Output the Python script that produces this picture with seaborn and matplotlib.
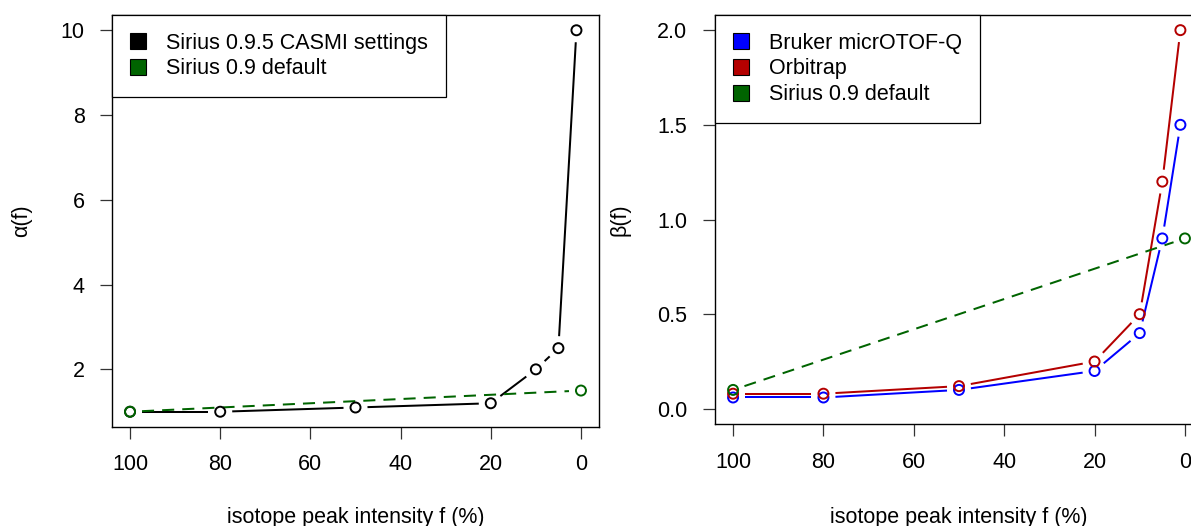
import numpy as np
import matplotlib
matplotlib.use("Agg")
import matplotlib.pyplot as plt
from matplotlib.patches import Patch
import seaborn as sns

# isotope peak intensity f (%)
freq = [100, 80, 50, 20, 10, 5, 1]
default_freq = [100, 0]

# alpha(f)
alpha_casmi = [1.0, 1.0, 1.1, 1.2, 2.0, 2.5, 10.0]
alpha_default = [1.0, 1.5]

# beta(f)
beta_bruker = [0.06, 0.06, 0.10, 0.20, 0.40, 0.90, 1.50]
beta_orbitrap = [0.08, 0.08, 0.12, 0.25, 0.50, 1.20, 2.00]
beta_default = [0.10, 0.90]

BLACK = "#000000"
GREEN = "#006400"
BLUE = "#0000FF"
RED = "#B40000"
FS = 15.5

sns.set_style("ticks")
plt.rcParams["font.family"] = ["Liberation Sans", "DejaVu Sans"]
plt.rcParams["font.size"] = FS
plt.rcParams["text.color"] = "black"
plt.rcParams["axes.labelcolor"] = "black"
plt.rcParams["xtick.labelcolor"] = "black"
plt.rcParams["ytick.labelcolor"] = "black"

W, H = 1191, 526
fig = plt.figure(figsize=(W / 100, H / 100), dpi=100)


def box(l, r, b, t):
    return [l / W, 1 - b / H, (r - l) / W, (b - t) / H]


ax1 = fig.add_axes(box(112, 599, 427, 15))
ax2 = fig.add_axes(box(715, 1203, 424, 15))

ax1.set_xlim(104, -4)
ax1.set_ylim(0.64, 10.36)
ax2.set_xlim(104, -4)
ax2.set_ylim(-0.08, 2.08)


def gapped(ax, xs, ys, color, gap=12, dashed=False):
    """R type='b' style: segments stop short of the points."""
    pts = ax.transData.transform(np.column_stack([xs, ys]))
    inv = ax.transData.inverted()
    for p0, p1 in zip(pts[:-1], pts[1:]):
        d = p1 - p0
        L = np.hypot(*d)
        if L <= 2 * gap:
            continue
        u = d / L
        a = inv.transform(p0 + u * gap)
        b = inv.transform(p1 - u * gap)
        line, = ax.plot([a[0], b[0]], [a[1], b[1]], color=color, lw=1.45,
                        solid_capstyle="butt")
        if dashed:
            line.set_dashes((6, 4))


def points(ax, xs, ys, color):
    sns.scatterplot(x=xs, y=ys, ax=ax, marker="o", s=52, facecolor="none",
                    edgecolor=color, linewidth=1.4, zorder=3)


gapped(ax1, freq, alpha_casmi, BLACK)
points(ax1, freq, alpha_casmi, BLACK)
gapped(ax1, default_freq, alpha_default, GREEN, dashed=True)
points(ax1, default_freq, alpha_default, GREEN)

gapped(ax2, freq, beta_bruker, BLUE)
points(ax2, freq, beta_bruker, BLUE)
gapped(ax2, freq, beta_orbitrap, RED)
points(ax2, freq, beta_orbitrap, RED)
gapped(ax2, default_freq, beta_default, GREEN, dashed=True)
points(ax2, default_freq, beta_default, GREEN)

ax1.set_xticks([100, 80, 60, 40, 20, 0])
ax1.set_yticks([2, 4, 6, 8, 10])
ax2.set_xticks([100, 80, 60, 40, 20, 0])
ax2.set_yticks([0.0, 0.5, 1.0, 1.5, 2.0])
ax2.set_yticklabels(["0.0", "0.5", "1.0", "1.5", "2.0"])

for ax, ylab in [(ax1, "\u03b1(f)"), (ax2, "\u03b2(f)")]:
    for s in ax.spines.values():
        s.set_visible(True)
        s.set_color("black")
        s.set_linewidth(1.0)
    ax.tick_params(axis="both", length=8.8, width=0.9, color="#333333",
                   labelsize=FS, direction="out")
    ax.tick_params(axis="x", pad=11)
    ax.tick_params(axis="y", pad=11)
    ax.set_xlabel("isotope peak intensity f (%)", fontsize=FS)
    ax.set_ylabel(ylab, fontsize=FS)

# label positions in axes fraction
ax1.xaxis.set_label_coords(0.5, (427 - 507) / 412)
ax2.xaxis.set_label_coords(0.5, (424 - 507) / 409)
ax1.yaxis.set_label_coords((32 - 112) / 487, 0.5)
ax2.yaxis.set_label_coords((630 - 715) / 488, 0.5)


def legend(ax, labels, colors):
    handles = [Patch(facecolor=c, edgecolor="black", linewidth=0.8) for c in colors]
    leg = ax.legend(handles, labels, loc="upper left", bbox_to_anchor=(0, 1),
                    borderaxespad=0, frameon=True, fancybox=False,
                    framealpha=1, edgecolor="black", fontsize=FS,
                    borderpad=0.82, labelspacing=0.22, handlelength=0.75,
                    handleheight=0.75, handletextpad=0.95)
    leg.get_frame().set_linewidth(0.9)
    leg.set_zorder(5)


legend(ax1, ["Sirius 0.9.5 CASMI settings", "Sirius 0.9 default"], [BLACK, GREEN])
legend(ax2, ["Bruker micrOTOF-Q", "Orbitrap", "Sirius 0.9 default"], [BLUE, RED, GREEN])

fig.savefig("out.png", dpi=100)
